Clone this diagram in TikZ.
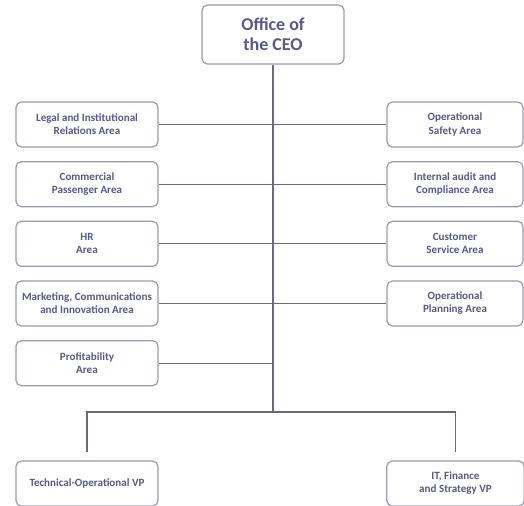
\documentclass[tikz,border=0pt]{standalone}
\usepackage{fontspec}
\setmainfont{Carlito}
\usetikzlibrary{positioning}
\definecolor{orgtext}{HTML}{58588A}
\definecolor{orgframe}{HTML}{9A9AB2}
\definecolor{orgline}{HTML}{6A6A7C}

\begin{document}
\begin{tikzpicture}[x=0.75pt,y=-0.75pt,node distance=10.1pt,
      area/.style={draw=orgframe,line width=0.9pt,rounded corners=4pt,fill=white,
        minimum width=106.5pt,minimum height=33.75pt,align=center,text=orgtext,
        font=\fontsize{8.3}{9.8}\selectfont\bfseries},
      rarea/.style={area,minimum width=102pt},
      link/.style={draw=orgline,line width=0.8pt}]
    \useasboundingbox (0,0) rectangle (524,506);
    \node[area,minimum height=44.25pt,font=\fontsize{13.5}{15}\selectfont\bfseries] (ceo) at (273,34.5) {Office of\\ the CEO};
    % left column
    \node[area] (legal) at (87,124.5) {Legal and Institutional\\ Relations Area};
    \node[area,below=of legal] (comm) {Commercial\\ Passenger Area};
    \node[area,below=of comm] (hr) {HR\\ Area};
    \node[area,below=of hr] (mkt) {Marketing, Communications\\ and Innovation Area};
    \node[area,below=of mkt] (profit) {Profitability\\ Area};
    % right column
    \node[rarea] (safety) at (455,124.5) {Operational\\ Safety Area};
    \node[rarea,below=of safety] (audit) {Internal audit and\\ Compliance Area};
    \node[rarea,below=of audit] (cust) {Customer\\ Service Area};
    \node[rarea,below=of cust] (plan) {Operational\\ Planning Area};
    % vice presidencies
    \node[area] (tech) at (87,483.5) {Technical-Operational VP};
    \node[rarea,minimum width=103pt] (itfin) at (455.5,483.5) {IT, Finance\\ and Strategy VP};
    \coordinate (split) at (273,412);
    \draw[link] (ceo) -- (split);
    \foreach \a in {legal,comm,hr,mkt,profit}
      \draw[link] (\a.east) -- (\a.east -| ceo.south);
    \foreach \a in {safety,audit,cust,plan}
      \draw[link] (\a.west) -- (\a.west -| ceo.south);
    \draw[link,shorten >=6pt] (split) -| (tech.north);
    \draw[link,shorten >=6pt] (split) -| (itfin.north);
  \end{tikzpicture}
\end{document}
